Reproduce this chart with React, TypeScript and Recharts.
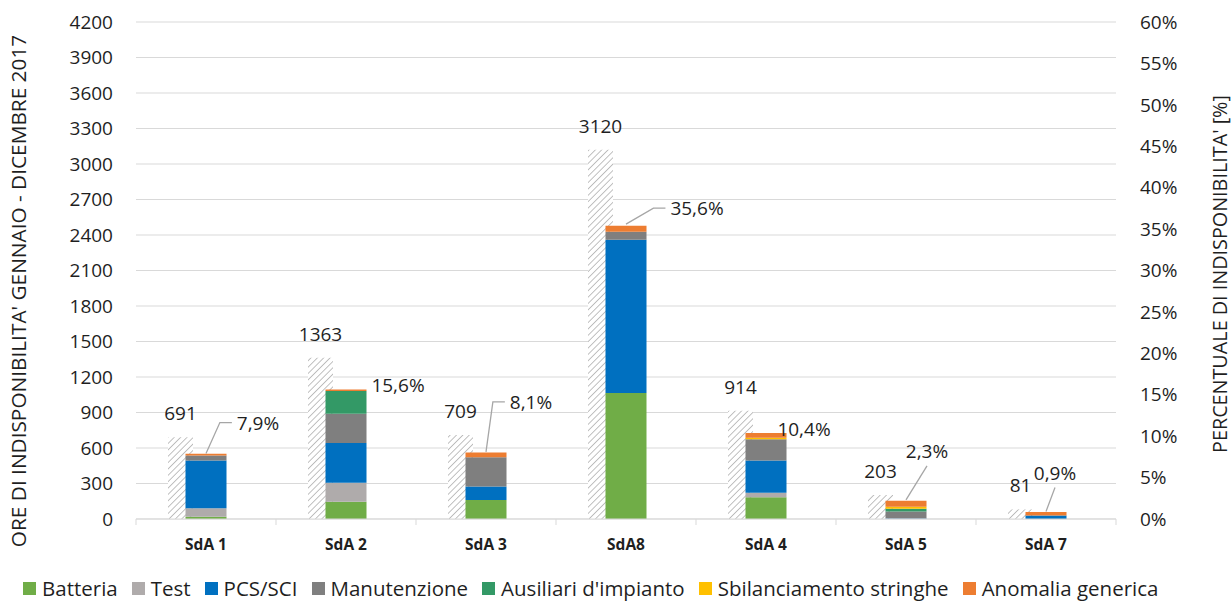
import { ComposedChart, Bar, Line, XAxis, YAxis, CartesianGrid, LabelList, Legend } from 'recharts';

const categories = ['SdA 1', 'SdA 2', 'SdA 3', 'SdA8', 'SdA 4', 'SdA 5', 'SdA 7'];
const totalHours = [691, 1363, 709, 3120, 914, 203, 81];
const unavailability = [0.079, 0.156, 0.081, 0.356, 0.104, 0.023, 0.009];

const batteria = [20, 145, 160, 1065, 183, 0, 0];
const test = [70, 162, 0, 0, 39, 0, 0];
const pcsSci = [405, 335, 115, 1295, 273, 4, 30];
const manutenzione = [42, 248, 246, 68, 178, 60, 0];
const ausiliari = [0, 192, 0, 0, 0, 23, 0];
const sbilanciamento = [0, 0, 0, 0, 14, 17, 0];
const anomalia = [15, 13, 42, 51, 40, 51, 30];

const hourTicks = [0, 300, 600, 900, 1200, 1500, 1800, 2100, 2400, 2700, 3000, 3300, 3600, 3900, 4200];
const pctTicks = [0, 0.05, 0.1, 0.15, 0.2, 0.25, 0.3, 0.35, 0.4, 0.45, 0.5, 0.55, 0.6];

const series = [
  { key: 'batteria', name: 'Batteria', color: '#70AD47', values: batteria },
  { key: 'test', name: 'Test', color: '#AFABAB', values: test },
  { key: 'pcs', name: 'PCS/SCI', color: '#0070C0', values: pcsSci },
  { key: 'manutenzione', name: 'Manutenzione', color: '#7F7F7F', values: manutenzione },
  { key: 'ausiliari', name: "Ausiliari d'impianto", color: '#339966', values: ausiliari },
  { key: 'sbilanciamento', name: 'Sbilanciamento stringhe', color: '#FFC000', values: sbilanciamento },
  { key: 'anomalia', name: 'Anomalia generica', color: '#ED7D31', values: anomalia },
];

// where each percentage label sits relative to its point (Excel moved them by hand)
const pctLabelOffsets = [
  [52, -31],
  [52, -5],
  [45, -50],
  [71, -16],
  [38, -4],
  [21, -49],
  [9, -39],
];

const data = categories.map((name, i) => {
  const row: Record<string, any> = { name, total: totalHours[i], pct: unavailability[i] };
  for (const s of series) row[s.key] = s.values[i];
  return row;
});

const W = 1231;
const H = 601;
const LEFT_W = 136;
const RIGHT_W = 115;
const HALF_BAND = (W - LEFT_W - RIGHT_W) / categories.length / 2;
const FONT = "'Open Sans', sans-serif";
const TEXT = '#1f1f1f';
const LABEL_SIZE = 19;

function textWidth(s: string, size: number) {
  let w = 0;
  for (const ch of s) w += ch === ',' ? 0.246 : ch === '%' ? 0.834 : 0.572;
  return w * size;
}

function pointOf(props: any) {
  const vb = props.viewBox ?? {};
  return {
    x: props.x ?? vb.x,
    y: props.y ?? vb.y,
    width: props.width ?? vb.width ?? 0,
  };
}

function TotalLabel(props: any) {
  const { x, y, width } = pointOf(props);
  return (
    <text x={x + width / 2} y={y - 17} textAnchor="middle" fontSize={LABEL_SIZE} fill={TEXT} fontFamily={FONT}>
      {props.value}
    </text>
  );
}

function PctLabel(props: any) {
  const { x, y } = pointOf(props);
  const [dx, dy] = pctLabelOffsets[props.index] ?? [0, -20];
  const text = (props.value * 100).toFixed(1).replace('.', ',') + '%';
  const cx = x + dx;
  const cy = y + dy;
  const left = cx - textWidth(text, LABEL_SIZE) / 2;
  let leader = null;
  if (y > cy + 10) {
    if (x < left - 8) {
      const ex = left - 5;
      leader = <polyline points={`${x},${y} ${ex - 12},${cy} ${ex},${cy}`} fill="none" stroke="#A6A6A6" strokeWidth={1.3} />;
    } else {
      leader = <line x1={x} y1={y} x2={cx} y2={cy + 15} stroke="#A6A6A6" strokeWidth={1.3} />;
    }
  }
  return (
    <g>
      {leader}
      <text x={cx} y={cy} textAnchor="middle" dominantBaseline="central" fontSize={LABEL_SIZE} fill={TEXT} fontFamily={FONT}>
        {text}
      </text>
    </g>
  );
}

function CategoryTick(props: any) {
  const { x, y, payload, index } = props;
  return (
    <g>
      <line x1={x + HALF_BAND} x2={x + HALF_BAND} y1={y} y2={y + 6} stroke="#D9D9D9" />
      {index === 0 && <line x1={x - HALF_BAND} x2={x - HALF_BAND} y1={y} y2={y + 6} stroke="#D9D9D9" />}
      <text x={x} y={y + 25} textAnchor="middle" dominantBaseline="central" fontSize={15.5} fontWeight="bold" fill={TEXT} fontFamily={FONT}>
        {payload.value}
      </text>
    </g>
  );
}

function LeftTitle() {
  return (
    <text x={18} y={291} transform="rotate(-90, 18, 291)" textAnchor="middle" dominantBaseline="central" fontSize={20.8} fill={TEXT} fontFamily={FONT}>
      ORE DI INDISPONIBILITA' GENNAIO - DICEMBRE  2017
    </text>
  );
}

function RightTitle() {
  return (
    <text x={1219} y={274} transform="rotate(-90, 1219, 274)" textAnchor="middle" dominantBaseline="central" fontSize={19.8} fill={TEXT} fontFamily={FONT}>
      PERCENTUALE DI INDISPONIBILITA' [%]
    </text>
  );
}

function LegendContent() {
  return (
    <div style={{ display: 'flex', alignItems: 'center', height: 28, fontFamily: FONT, fontSize: 20.5, color: TEXT, whiteSpace: 'pre' }}>
      {series.map((s) => (
        <div key={s.key} style={{ display: 'flex', alignItems: 'center', marginRight: 14 }}>
          <span style={{ width: 13, height: 13, background: s.color, display: 'inline-block', marginRight: 6 }} />
          <span>{s.name}</span>
        </div>
      ))}
    </div>
  );
}

export default function App() {
  return (
    <div style={{ position: 'absolute', left: 0, top: 0, width: W, height: H, background: '#fff', fontFamily: FONT }}>
      <svg width={0} height={0} style={{ position: 'absolute' }}>
        <defs>
          <pattern id="hatch" width={4.5} height={10} patternUnits="userSpaceOnUse" patternTransform="rotate(45)">
            <rect width={4.5} height={10} fill="#fff" />
            <line x1={0} y1={0} x2={0} y2={10} stroke="#A6A6A6" strokeWidth={1.4} />
          </pattern>
        </defs>
      </svg>
      <ComposedChart width={W} height={H} data={data} margin={{ top: 22, right: 0, bottom: 0, left: 0 }} barGap={-7.5}>
        <CartesianGrid yAxisId="hours" vertical={false} stroke="#D9D9D9" />
        <XAxis
          dataKey="name"
          height={54}
          axisLine={{ stroke: '#D9D9D9' }}
          tickLine={false}
          tickSize={0}
          tickMargin={0}
          tick={<CategoryTick />}
          interval={0}
        />
        <YAxis
          yAxisId="hours"
          width={LEFT_W}
          domain={[0, 4200]}
          ticks={hourTicks}
          axisLine={false}
          tickLine={false}
          tickSize={0}
          tickMargin={23}
          tick={{ fontSize: 19, fill: TEXT, fontFamily: FONT }}
          label={<LeftTitle />}
        />
        <YAxis
          yAxisId="pct"
          orientation="right"
          width={RIGHT_W}
          domain={[0, 0.6]}
          ticks={pctTicks}
          axisLine={false}
          tickLine={false}
          tickSize={0}
          tickMargin={24}
          tickFormatter={(v: number) => `${Math.round(v * 100)}%`}
          tick={{ fontSize: 19, fill: TEXT, fontFamily: FONT, textAnchor: 'start' }}
          label={<RightTitle />}
        />
        {/* own stack id so the hatched total column is laid out before the cause stack */}
        <Bar yAxisId="hours" dataKey="total" stackId="total" barSize={25} fill="url(#hatch)" isAnimationActive={false}>
          <LabelList dataKey="total" content={<TotalLabel />} />
        </Bar>
        {series.map((s) => (
          <Bar key={s.key} yAxisId="hours" dataKey={s.key} name={s.name} stackId="cause" barSize={41} fill={s.color} isAnimationActive={false} />
        ))}
        {/* empty slot on the right so the stacked column sits in the middle of the category */}
        <Bar yAxisId="hours" dataKey="spacer" barSize={25} fill="none" isAnimationActive={false} />
        <Line yAxisId="pct" dataKey="pct" stroke="none" dot={false} activeDot={false} isAnimationActive={false}>
          <LabelList dataKey="pct" content={<PctLabel />} />
        </Line>
        <Legend
          verticalAlign="bottom"
          align="left"
          content={<LegendContent />}
          wrapperStyle={{ left: 23, top: 574, bottom: 'auto', width: 'auto', height: 28 }}
        />
      </ComposedChart>
    </div>
  );
}
